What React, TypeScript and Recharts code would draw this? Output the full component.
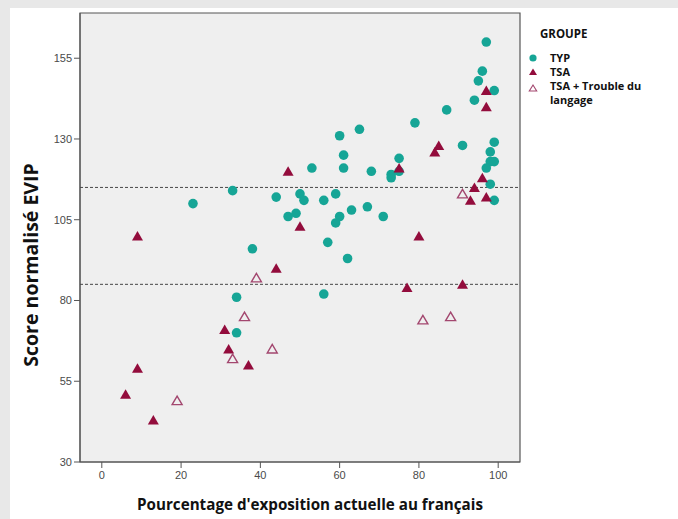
// @ts-nocheck
import React from "react";
import {
  ScatterChart, Scatter, XAxis, YAxis, CartesianGrid, ReferenceLine, ReferenceArea,
} from "recharts";

// points: [exposure %, EVIP score]
const typPoints = [
  [97, 160], [96, 151], [95, 148], [99, 145], [94, 142], [87, 139], [79, 135], [65, 133],
  [60, 131], [99, 129], [91, 128], [98, 126], [61, 125], [75, 124], [98, 123], [99, 123],
  [97, 121], [53, 121], [61, 121], [68, 120], [75, 120], [73, 119], [73, 118], [98, 116],
  [33, 114], [50, 113], [59, 113], [44, 112], [51, 111], [56, 111], [99, 111], [23, 110],
  [67, 109], [63, 108], [49, 107], [47, 106], [71, 106], [60, 106], [59, 104], [57, 98],
  [38, 96], [62, 93], [56, 82], [34, 81], [34, 70],
];
const tsaPoints = [
  [97, 145], [97, 140], [85, 128], [84, 126], [75, 121], [47, 120], [96, 118], [94, 115],
  [97, 112], [93, 111], [50, 103], [9, 100], [80, 100], [44, 90], [77, 84], [91, 85],
  [31, 71], [32, 65], [37, 60], [9, 59], [6, 51], [13, 43],
];
const tsaLangPoints = [
  [91, 113], [39, 87], [36, 75], [81, 74], [88, 75], [43, 65], [33, 62], [19, 49],
];

const xTicks = [0, 20, 40, 60, 80, 100];
const yTicks = [30, 55, 80, 105, 130, 155];
const cutoffs = [115, 85];

const TEAL = "#16a596";
const MAROON = "#930c3c";
const PINK = "#a3476f";

const toRows = (pts) => pts.map(([x, y]) => ({ x, y }));

const Circle = ({ cx, cy }) => <circle cx={cx} cy={cy} r={4.8} fill={TEAL} />;
const Tri = ({ cx, cy }) => (
  <polygon points={`${cx},${cy - 5} ${cx - 5.5},${cy + 4.5} ${cx + 5.5},${cy + 4.5}`} fill={MAROON} />
);
const HollowTri = ({ cx, cy }) => (
  <polygon points={`${cx},${cy - 4.5} ${cx - 5},${cy + 4} ${cx + 5},${cy + 4}`}
           fill="none" stroke={PINK} strokeWidth={1.4} />
);

const tickStyle = { fontSize: 11, fill: "#4a4a4a", fontFamily: "Liberation Sans, Arial, sans-serif" };
const titleFont = "Open Sans, sans-serif";

const legendText = {
  fontFamily: titleFont, fontWeight: 700, fontSize: 11, color: "#111", lineHeight: "14px",
};

export default function App() {
  return (
    <div style={{ position: "absolute", left: 0, top: 0, width: 678, height: 519, background: "#e8e8e8" }}>
      <div style={{ position: "absolute", left: 10, top: 8, width: 668, height: 511, background: "#fff" }}>
        <ScatterChart width={668} height={511} margin={{ top: 5, right: 158, bottom: 0, left: 0 }}>
          <CartesianGrid horizontal={false} vertical={false} fill="#efefef" />
          <XAxis type="number" dataKey="x" domain={[-5.5, 105.5]} ticks={xTicks} height={57}
                 tick={tickStyle} tickSize={6} tickMargin={3}
                 axisLine={{ stroke: "#555" }} tickLine={{ stroke: "#555" }}
                 label={() => (
                   <text x={300} y={496} textAnchor="middle" dominantBaseline="central"
                         style={{ fontFamily: titleFont, fontWeight: 700, fontSize: 15.2, fill: "#111" }}>
                     Pourcentage d'exposition actuelle au français
                   </text>
                 )} />
          <YAxis type="number" dataKey="y" domain={[30, 169]} ticks={yTicks} width={70}
                 tick={tickStyle} tickSize={6} tickMargin={2}
                 axisLine={{ stroke: "#555" }} tickLine={{ stroke: "#555" }}
                 label={() => (
                   <text x={20} y={257} transform="rotate(-90 20 257)" textAnchor="middle"
                         dominantBaseline="central"
                         style={{ fontFamily: titleFont, fontWeight: 700, fontSize: 19.5, fill: "#111" }}>
                     Score normalisé EVIP
                   </text>
                 )} />
          <ReferenceArea x1={-5.5} x2={105.5} y1={30} y2={169} fill="none" stroke="#555" strokeWidth={1.2} />
          {cutoffs.map((v) => (
            <ReferenceLine key={v} y={v} stroke="#333" strokeDasharray="3 2" strokeWidth={0.9} />
          ))}
          <Scatter name="TYP" data={toRows(typPoints)} shape={Circle} isAnimationActive={false} />
          <Scatter name="TSA" data={toRows(tsaPoints)} shape={Tri} isAnimationActive={false} />
          <Scatter name="TSA + Trouble du langage" data={toRows(tsaLangPoints)} shape={HollowTri}
                   isAnimationActive={false} />
        </ScatterChart>

        {/* legend */}
        <div style={{ position: "absolute", left: 530, top: 19, ...legendText, fontSize: 11.5 }}>GROUPE</div>
        <svg style={{ position: "absolute", left: 517, top: 43 }} width={14} height={44}>
          <circle cx={6} cy={7} r={3.6} fill={TEAL} />
          <polygon points="6,17.5 2,24 10,24" fill={MAROON} />
          <polygon points="6,34 2.3,40 9.7,40" fill="none" stroke={PINK} strokeWidth={1.1} />
        </svg>
        <div style={{ position: "absolute", left: 540, top: 43, ...legendText }}>
          <div>TYP</div>
          <div>TSA</div>
          <div>TSA + Trouble du</div>
          <div>langage</div>
        </div>
      </div>
    </div>
  );
}
